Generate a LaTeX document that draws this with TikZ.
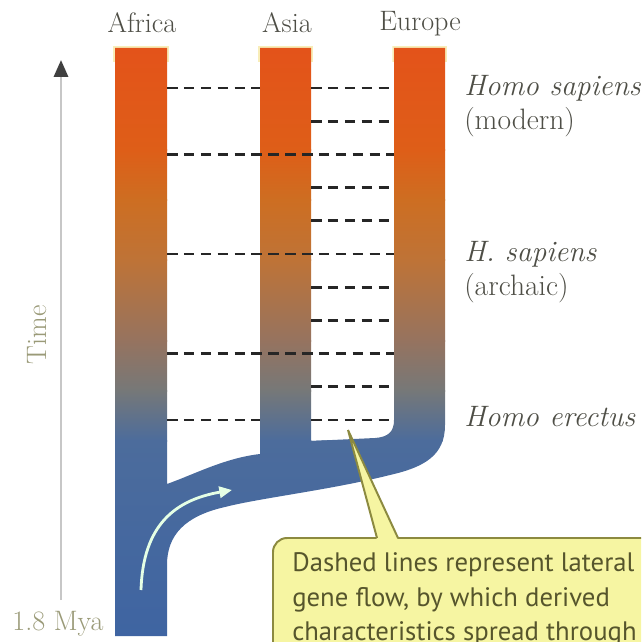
\documentclass[tikz,border=0pt]{standalone}
\usepackage{fontspec}
\usepackage{tikz}
\usetikzlibrary{arrows.meta}
\newfontfamily\notefont{PT Sans}
\definecolor{StemA}{HTML}{E4521A}
\definecolor{StemB}{HTML}{DE5E18}
\definecolor{StemC}{HTML}{CD6E22}
\definecolor{StemD}{HTML}{BE7337}
\definecolor{StemE}{HTML}{96735F}
\definecolor{StemF}{HTML}{767878}
\definecolor{StemG}{HTML}{4C6C9C}
\definecolor{StemH}{HTML}{3E64A2}
\definecolor{Glow}{HTML}{F8EDB8}
\definecolor{Ink}{HTML}{4E4E46}
\definecolor{AxisInk}{HTML}{9A9A78}
\definecolor{NoteFill}{HTML}{F6F5A2}
\definecolor{NoteLine}{HTML}{8C8A40}
\definecolor{NoteText}{HTML}{56552C}
\newcommand{\treepath}{(115,48) -- (167,48) -- (167,484) .. controls (195,474) and (225,458) .. (260,454) -- (260,48) -- (311,48) -- (311,441) -- (375,438) .. controls (388,437) and (394,432) .. (394,420) -- (394,48) -- (445,48) -- (445,425) .. controls (445,455) and (425,467) .. (390,475) .. controls (330,490) and (260,498) .. (225,507) .. controls (185,516) and (167,535) .. (167,565) -- (167,636) -- (115,636) -- cycle}

\begin{document}
\begin{tikzpicture}[x=0.025cm,y=-0.025cm,region/.style={inner sep=0pt, text=Ink, font=\fontsize{20}{24}\selectfont},stage/.style={inner sep=0pt, text=Ink, align=left, anchor=west, font=\fontsize{21}{24}\selectfont},axislbl/.style={inner sep=0pt, text=AxisInk, font=\fontsize{20}{24}\selectfont},flow/.style={line width=2pt, black!85, dash pattern=on 7.5pt off 4.5pt},timeax/.style={line width=2pt, black!22, -{Triangle[length=12pt, width=10pt, color=black!75]}},drift/.style={line width=2pt, white!90!green, -{Triangle[length=9pt, width=8pt]}},note/.style={inner sep=0pt, text=NoteText, align=left, anchor=north west, font=\notefont\fontsize{19}{24.8}\selectfont}]
\useasboundingbox (0,0) rectangle (641,642);
\clip (0,0) rectangle (641,642);
\begin{scope}
\clip (0,0) rectangle (641,62);
\draw[Glow, line width=2.5pt] \treepath;
\end{scope}
\begin{scope}
\clip \treepath;
\shade[top color=StemA, bottom color=StemB] (100,40) rectangle (460,151);
\shade[top color=StemB, bottom color=StemC] (100,150) rectangle (460,201);
\shade[top color=StemC, bottom color=StemD] (100,200) rectangle (460,261);
\shade[top color=StemD, bottom color=StemE] (100,260) rectangle (460,341);
\shade[top color=StemE, bottom color=StemF] (100,340) rectangle (460,391);
\shade[top color=StemF, bottom color=StemG] (100,390) rectangle (460,441);
\shade[top color=StemG, bottom color=StemH] (100,440) rectangle (460,645);
\end{scope}
\foreach \i in {0,1,3,4,6,7,9,10} \draw[flow] (311,{88+33.2*\i}) -- (394,{88+33.2*\i});
\foreach \i in {0,10} \draw[flow] (167,{88+33.2*\i}) -- (260,{88+33.2*\i});
\foreach \i in {2,5,8} \draw[flow] (167,{88+33.2*\i}) -- (394,{88+33.2*\i});
\coordinate (driftstart) at (141,590);
\coordinate (driftend) at (232,490);
\draw[drift] (driftstart) .. controls (143,525) and (175,500) .. (driftend);
\node[region] (africa) at (142,23) {Africa};
\node[region] (asia) at (287,23) {Asia};
\node[region] (europe) at (420,24) {Europe};
\node[stage] (modern) at (464,106) {\textit{Homo sapiens}\\(modern)};
\node[stage] (archaic) at (464,272) {\textit{H. sapiens}\\(archaic)};
\node[stage] (erectus) at (464,417) {\textit{Homo erectus}};
\coordinate (timebot) at (61,600);
\coordinate (timetop) at (61,60);
\draw[timeax] (timebot) -- (timetop);
\node[axislbl, rotate=90] (time) at (37,335) {Time};
\node[axislbl] (mya) at (58,624) {1.8 Mya};
\filldraw[fill=NoteFill, draw=NoteLine, line width=1.4pt, rounded corners=10pt] (273,680) rectangle (700,538);
\coordinate (tip) at (348,430);
\fill[NoteFill] (377,540) -- (tip) -- (398,540) -- cycle;
\draw[NoteLine, line width=1.4pt] (377,538) -- (tip) -- (398,538);
\node[note] (notetext) at (292,552) {Dashed lines represent lateral\\gene flow, by which derived\\characteristics spread through};
\end{tikzpicture}
\end{document}
